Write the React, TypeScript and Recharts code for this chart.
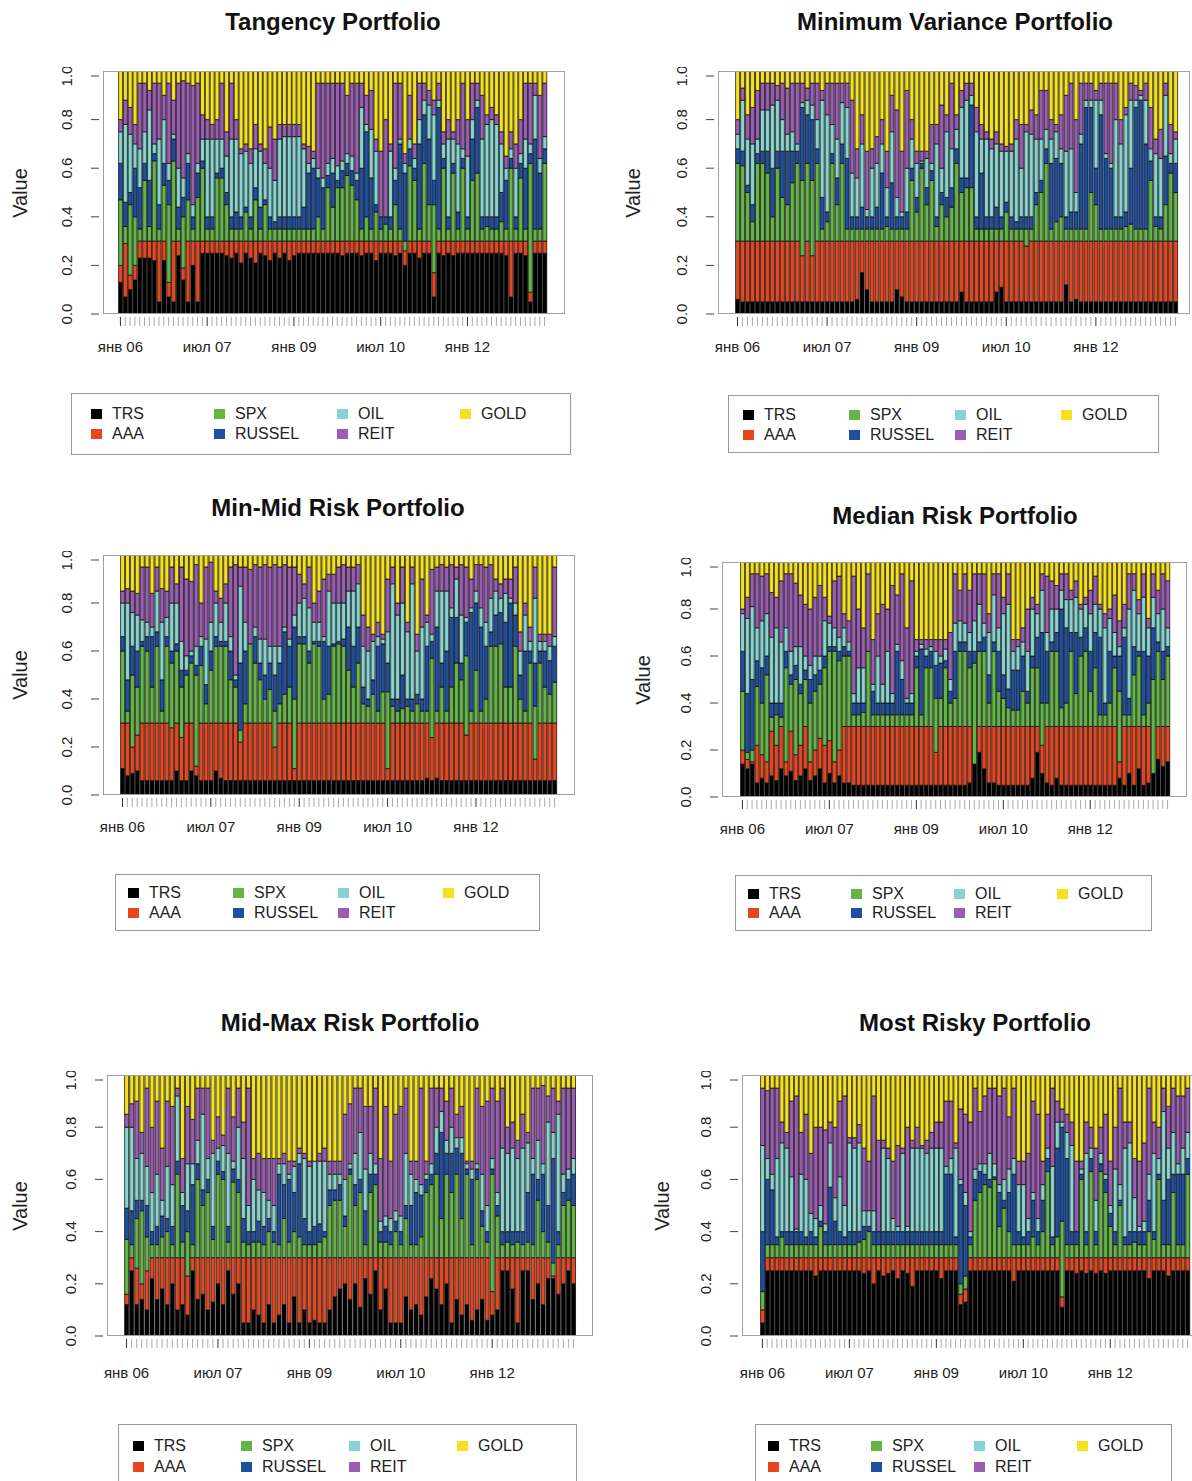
import React from 'react';
import { BarChart, Bar, XAxis, YAxis } from 'recharts';

// Asset order (bottom to top of each stacked bar)
const SERIES = ['TRS', 'AAA', 'SPX', 'RUSSEL', 'OIL', 'REIT', 'GOLD'];
const COLORS: Record<string, string> = {
  TRS: '#000000',
  AAA: '#e8461f',
  SPX: '#63b546',
  RUSSEL: '#1d4fa3',
  OIL: '#86d3d0',
  REIT: '#9b5db3',
  GOLD: '#f6e21c',
};

// monthly rebalancing dates, Jan 2006 .. May 2013
const MONTHS: string[] = [];
for (let i = 0; i < 89; i++) {
  const y = 2006 + Math.floor(i / 12);
  const m = (i % 12) + 1;
  MONTHS.push(`${y}-${String(m).padStart(2, '0')}`);
}
const TICK_MONTHS = ['2006-01', '2007-07', '2009-01', '2010-07', '2012-01'];
const TICK_LABELS = ['янв 06', 'июл 07', 'янв 09', 'июл 10', 'янв 12'];
const Y_TICKS = [0, 0.2, 0.4, 0.6, 0.8, 1];

// Values are the upper edge (in %) of each band:
// TRS top, AAA top, SPX top, RUSSEL top, OIL top, REIT top (GOLD fills to 100).

// Tangency Portfolio
const tanTRS = [13,7,10,14,23,23,23,22,5,22, 7,5,24,14,5,20,5,25,25,25, 25,25,24,23,25,21,25,23,21,25, 24,22,25,23,25,22,24,25,25,25, 25,25,25,25,25,25,24,25,25,25, 24,25,25,22,25,25,25,24,25,20, 25,25,23,25,25,7,25,24,25,24, 25,25,25,25,25,25,25,25,25,25, 24,7,25,25,24,5,25,25,25];
const tanAAA = [20,29,16,20,30,30,30,30,30,30, 13,30,30,19,30,30,30,30,30,30, 30,30,30,30,30,30,30,30,30,30, 30,30,30,30,30,30,30,30,30,30, 30,30,30,30,30,30,30,30,30,30, 30,30,30,30,30,30,30,30,30,26, 30,30,30,30,30,17,30,30,30,30, 30,30,30,30,30,30,30,30,30,30, 30,30,30,30,30,9,30,30,30];
const tanSPX = [47,36,45,40,35,55,36,63,35,53, 45,63,35,40,47,35,48,60,35,35, 56,56,45,35,35,35,42,35,47,35, 45,35,35,35,35,35,35,35,35,35, 35,40,35,52,44,52,52,57,53,47, 35,40,35,42,35,37,35,45,35,30, 61,55,35,62,45,45,35,60,35,58, 35,60,35,55,58,35,36,35,35,38, 35,60,35,56,35,62,35,35,62];
const tanRUSSEL = [62,46,50,60,52,62,55,66,45,62, 55,72,44,48,62,40,58,63,40,40, 58,60,50,40,42,40,44,40,52,44, 47,40,38,40,40,40,40,40,44,58, 60,56,52,57,58,55,59,62,59,55, 60,75,56,45,40,40,40,55,70,58, 68,60,70,82,72,55,85,64,40,62, 42,64,40,72,85,40,40,40,40,50, 55,64,40,62,60,66,72,58,68];
const tanOIL = [75,78,74,70,68,75,84,70,72,80, 62,74,60,56,66,45,62,72,72,72, 72,72,65,72,72,66,67,62,68,67, 62,60,55,72,73,73,73,73,68,62, 64,60,56,62,64,61,63,66,65,58, 85,78,76,67,40,40,67,60,72,62, 72,64,80,88,86,82,88,70,72,72, 70,68,65,80,88,72,78,80,78,70, 60,68,60,66,72,70,90,64,73];
const tanREIT = [80,88,85,78,95,95,92,95,95,90, 95,88,95,96,95,94,95,82,80,78, 80,95,75,95,80,68,70,68,78,70, 68,77,72,78,78,78,78,78,70,69, 67,95,95,95,95,95,95,90,95,95, 95,90,92,72,67,80,70,95,95,66, 90,70,95,95,92,88,95,75,80,75, 80,95,80,95,95,90,82,85,82,75, 65,75,70,80,95,95,95,90,95];

// Minimum Variance Portfolio
const mvTRS = [6,5,5,5,5,5,5,5,5,5, 5,5,5,5,5,5,5,5,5,5, 5,5,5,5,6,17,10,5,5,5, 5,5,10,7,5,5,5,5,5,5, 5,5,5,5,5,9,5,5,5,5, 5,5,9,11,5,5,5,5,5,5, 5,5,5,5,5,5,12,5,6,5, 5,5,5,5,5,5,5,5,5,5, 5,5,5,5,5,5,5,5,5];
const mvAAA = [30,30,30,30,30,30,30,30,30,30, 30,30,30,24,30,24,30,30,30,30, 30,30,30,30,30,30,30,30,30,30, 30,30,30,30,30,30,30,30,30,30, 30,30,30,30,30,30,30,30,30,30, 30,30,30,30,30,30,30,30,28,30, 30,30,30,30,30,30,30,30,30,30, 30,30,30,30,30,30,30,30,30,30, 30,30,30,30,30,30,30,30,30];
const mvSPX = [62,61,50,38,62,62,58,40,60,48, 45,54,62,55,62,55,62,35,38,62, 45,62,35,35,35,35,35,35,35,35, 36,35,35,35,35,55,42,60,45,55, 36,45,40,44,62,50,52,52,35,35, 35,35,35,35,42,35,35,35,35,35, 45,50,62,35,38,40,35,35,35,35, 35,50,45,35,35,35,35,35,36,37, 35,35,35,55,36,35,45,58,50];
const mvRUSSEL = [68,67,53,45,66,67,67,60,67,67, 67,67,67,85,82,80,68,48,42,66, 56,70,64,40,40,44,40,40,44,58, 40,54,40,40,42,60,48,62,52,59, 40,50,48,52,68,56,56,86,40,58, 40,40,44,40,46,40,38,40,40,40, 50,55,68,62,64,62,40,42,42,70, 85,85,60,82,64,60,40,40,42,60, 85,88,70,63,40,40,65,62,62];
const mvOIL = [74,88,72,70,72,84,84,86,88,80, 74,75,70,87,88,86,80,88,82,78, 72,87,85,58,56,70,43,60,62,70, 52,75,48,42,60,72,62,63,64,62, 70,60,75,68,76,85,88,90,75,72, 72,68,70,67,67,67,72,60,75,74, 72,72,76,72,75,68,67,68,50,74, 88,88,88,88,66,62,80,70,82,88, 88,90,88,68,66,64,90,66,72];
const mvREIT = [80,93,82,85,92,95,95,95,94,95, 93,95,95,95,93,95,95,92,95,95, 95,95,95,88,68,82,67,68,73,80, 67,90,84,67,92,80,67,67,67,78, 78,86,82,95,82,92,95,95,85,78, 75,72,75,70,69,70,80,78,78,84, 82,92,92,80,78,82,90,95,80,95, 95,95,92,95,95,95,95,80,85,95, 94,92,95,85,72,76,95,78,75];

// Min-Mid Risk Portfolio
const mmTRS = [11,8,9,10,6,6,6,6,6,6, 6,10,6,6,10,8,6,6,6,10, 7,6,6,6,6,6,6,6,6,6, 6,6,6,6,6,6,6,6,6,6, 6,6,6,6,6,6,6,6,6,6, 6,6,6,6,6,6,6,6,6,6, 6,6,7,6,7,6,6,6,6,6, 6,6,6,6,6,6,6,6,6,6, 6,6,6,6,6,6,6,6,6];
const mmAAA = [30,30,20,25,30,30,30,30,30,30, 28,30,24,30,30,12,30,30,30,30, 30,30,30,30,22,30,30,30,30,30, 30,20,30,30,30,11,30,30,30,30, 30,30,30,30,30,30,30,30,30,30, 30,30,30,30,11,30,30,30,30,30, 30,30,30,24,30,30,30,30,30,30, 25,30,30,30,30,30,30,30,30,30, 30,30,30,30,15,30,30,30,30];
const mmSPX = [60,35,50,45,62,60,45,62,35,62, 55,60,45,50,55,50,54,38,52,62, 62,62,48,45,27,38,63,55,48,40, 44,35,38,42,45,40,63,63,55,63, 62,40,42,62,63,62,52,45,55,38, 37,42,35,43,43,37,35,36,37,35, 38,35,35,57,35,45,35,45,55,48, 58,35,52,35,40,62,62,63,45,45, 62,40,35,55,37,55,45,42,47];
const mmRUSSEL = [66,48,62,60,64,66,66,68,48,66, 60,63,52,52,58,54,62,46,60,66, 64,64,60,48,55,60,63,66,55,50, 55,50,55,68,62,70,66,66,60,64, 64,64,62,63,64,65,70,62,70,45, 40,48,62,63,55,40,40,50,40,40, 42,40,62,64,70,55,60,74,74,55, 72,76,80,70,62,68,75,76,72,80, 75,50,60,60,55,60,60,56,62];
const mmOIL = [80,80,76,75,73,72,70,85,72,74, 80,80,64,58,60,62,66,65,72,80, 72,80,66,50,87,72,63,70,65,65, 62,62,62,70,65,75,80,82,78,72, 72,66,85,80,80,80,85,85,88,62, 60,64,66,65,68,88,75,80,68,88, 60,70,72,67,85,85,85,78,90,75, 74,78,85,78,72,82,85,82,84,82, 80,60,75,64,82,64,64,62,66];
const mmREIT = [85,86,85,84,95,95,84,95,86,85, 95,88,95,90,89,96,80,95,97,85, 82,88,95,96,95,95,94,96,95,96, 95,96,95,96,95,95,92,88,95,80, 85,90,92,92,95,96,95,95,96,75, 70,67,72,67,90,95,80,95,72,95, 67,90,75,94,95,96,95,96,95,96, 95,90,96,96,95,96,90,88,90,90, 95,68,80,70,95,67,67,67,95];

// Median Risk Portfolio
const mdTRS = [14,12,14,6,8,6,9,7,12,9, 11,7,9,12,7,9,12,6,10,6, 9,6,6,5,5,5,5,5,5,5, 5,5,5,5,5,5,5,5,5,5, 5,5,5,5,5,5,5,6,14,19, 12,6,6,5,5,5,5,5,5,5, 8,19,10,6,5,8,5,5,5,5, 5,5,5,5,5,5,5,5,8,5, 10,5,12,5,6,10,16,13,15];
const mdAAA = [20,16,15,22,18,15,28,22,30,15, 28,18,22,30,15,20,25,22,24,15, 20,30,30,30,30,30,30,30,30,30, 30,30,30,30,30,30,30,30,30,30, 19,30,30,30,30,30,30,30,14,30, 30,30,30,30,30,30,30,30,30,30, 30,30,22,30,30,30,30,30,30,30, 30,30,30,30,30,30,30,30,15,30, 30,30,30,30,30,10,30,30,30];
const mdSPX = [45,19,20,47,40,52,34,35,34,55, 48,50,44,50,40,45,48,55,62,62, 58,60,60,35,35,36,62,35,35,35, 35,35,35,35,35,35,55,35,55,55, 42,42,55,40,42,62,62,55,57,62, 62,40,62,45,42,38,37,37,45,40, 55,55,40,40,62,62,38,40,62,44, 60,62,45,55,35,35,40,55,45,35, 35,52,60,35,40,50,62,50,60];
const mdRUSSEL = [62,44,50,58,55,60,40,40,40,62, 52,56,48,54,50,52,54,60,64,64, 62,64,62,40,40,40,62,45,40,40, 40,40,62,50,40,40,60,63,60,62, 56,57,58,45,62,66,66,62,62,66, 68,52,66,62,52,46,54,54,60,45, 60,68,70,62,66,70,80,72,70,70, 68,72,62,70,68,40,62,60,60,68, 42,64,62,62,60,72,66,62,64];
const mdOIL = [78,76,81,72,75,78,68,72,66,72, 62,64,64,60,56,60,60,75,74,72, 68,72,66,44,55,55,62,48,60,48, 62,44,65,58,42,44,62,65,63,64, 62,60,63,50,74,75,74,70,75,82, 74,70,86,72,78,82,62,64,66,62, 80,78,88,70,80,80,88,84,84,85, 80,82,78,82,80,72,76,70,64,72, 80,88,78,85,72,85,78,80,72];
const mdREIT = [80,85,95,95,94,95,87,85,92,95, 95,91,86,82,80,85,90,85,77,92, 94,78,75,94,80,72,95,67,78,82, 80,90,86,95,72,92,67,67,67,67, 67,67,67,70,95,88,95,88,95,95, 95,78,95,95,85,95,67,67,72,80, 85,82,95,94,92,90,95,95,88,92, 82,85,88,94,82,78,80,86,75,82, 95,95,84,95,76,95,88,95,92];

// Mid-Max Risk Portfolio
const mxTRS = [12,25,12,14,10,22,14,18,12,20, 10,12,8,25,14,16,10,13,20,12, 25,16,20,5,5,10,8,5,12,5, 8,12,5,15,5,10,5,6,5,5, 10,15,18,20,14,20,11,22,16,25, 10,18,5,5,5,15,10,12,8,15, 22,18,12,20,5,14,8,12,6,10, 14,6,8,10,25,25,18,5,25,25, 14,20,12,22,22,16,20,25,20];
const mxAAA = [16,30,26,20,25,30,30,30,30,30, 30,30,23,30,30,30,30,30,30,30, 30,30,30,30,30,30,30,30,30,30, 30,30,30,30,30,30,30,30,30,30, 30,30,30,30,30,30,30,30,30,30, 30,30,30,30,30,30,30,30,30,30, 30,30,30,30,30,30,30,30,30,30, 30,30,17,30,30,30,30,30,30,30, 30,30,30,30,23,30,30,30,30];
const mxSPX = [37,35,45,48,38,35,35,38,40,35, 62,36,40,35,60,50,55,37,62,60, 36,59,55,36,35,36,36,35,40,36, 35,45,36,40,38,35,35,35,36,38, 50,52,52,42,62,50,55,35,55,58, 36,36,35,40,35,45,35,35,38,55, 58,62,45,62,55,62,45,62,35,60, 42,36,62,46,35,36,35,36,35,36, 35,52,40,36,28,35,50,52,50];
const mxRUSSEL = [49,48,52,52,50,40,42,46,45,42, 67,50,48,58,66,56,60,42,67,63, 42,64,60,45,40,40,44,42,45,40, 62,58,60,55,66,45,40,42,43,40, 56,56,58,46,64,58,60,48,62,62, 40,42,40,44,40,50,50,55,54,60, 62,70,78,70,70,72,70,64,60,64, 48,40,64,50,40,40,40,40,40,55, 62,60,62,50,68,40,55,60,62];
const mxOIL = [80,80,68,70,65,55,62,52,65,58, 92,55,66,66,75,85,68,70,72,73, 70,67,80,68,50,60,56,55,52,50, 66,66,62,65,70,68,65,67,67,67, 62,62,62,60,66,70,78,64,70,66, 44,46,45,48,46,70,62,60,58,62, 66,80,86,75,80,76,76,66,64,66, 62,50,68,55,72,70,72,68,72,74, 68,75,66,82,78,85,62,64,68];
const mxREIT = [85,89,90,78,95,80,90,72,90,88, 95,68,88,83,95,95,95,75,84,77, 95,84,95,82,95,68,70,68,68,68, 68,70,67,67,72,70,67,67,70,72, 67,67,67,85,89,95,95,88,88,95, 68,88,67,85,88,95,67,67,95,67, 95,95,95,90,95,85,88,67,67,95, 88,90,95,90,95,80,82,75,85,78, 95,95,96,92,95,90,95,95,95];

// Most Risky Portfolio
const mrTRS = [5,25,25,25,25,25,25,25,25,25, 25,23,25,25,25,25,25,25,25,25, 25,24,25,20,25,23,24,25,22,25, 24,19,25,25,25,25,25,22,25,25, 25,12,13,25,25,25,25,25,25,25, 25,25,21,25,25,25,25,25,25,25, 25,25,11,25,25,24,25,24,25,24, 25,24,25,25,25,25,25,25,25,25, 22,25,25,25,23,25,25,25,25];
const mrAAA = [10,30,30,30,30,30,30,30,30,30, 30,30,30,30,30,30,30,30,30,30, 30,30,30,30,30,30,30,30,30,30, 30,30,30,30,30,30,30,30,30,30, 30,16,18,30,30,30,30,30,30,30, 30,30,30,30,30,30,30,30,30,30, 30,30,15,30,30,30,30,30,30,30, 30,30,30,30,30,30,30,30,30,30, 30,30,30,30,30,30,30,30,30];
const mrSPX = [17,35,35,35,38,35,35,35,35,35, 35,35,42,35,35,35,35,35,35,35, 36,37,40,35,35,35,35,35,35,35, 35,35,35,35,35,35,35,35,35,35, 35,20,23,35,52,55,58,57,60,42, 49,40,35,35,35,35,38,35,40,63, 35,38,44,35,35,35,60,35,63,35, 63,55,42,35,50,35,35,36,35,35, 40,37,60,35,35,55,35,35,62];
const mrRUSSEL = [40,60,56,38,40,40,40,40,40,38, 40,38,44,40,57,44,40,38,40,40, 40,42,42,40,40,40,40,40,40,40, 40,40,40,40,40,40,40,40,62,62, 38,58,50,38,60,63,62,60,61,55, 52,55,62,40,38,40,52,40,52,68, 38,72,80,68,40,40,62,40,68,40, 66,60,47,40,52,38,40,40,40,40, 52,40,62,52,60,62,62,62,68];
const mrOIL = [73,68,62,68,74,72,61,41,62,60, 47,45,50,43,74,53,61,50,74,72, 74,48,48,48,40,72,68,45,42,70, 42,72,72,72,70,72,72,72,65,68, 72,60,55,40,64,66,66,70,66,58, 60,64,68,58,58,45,55,45,58,72, 65,82,82,78,73,40,64,70,72,52, 70,62,50,64,58,72,74,53,42,44, 62,70,68,86,72,78,66,72,78];
const mrREIT = [95,94,95,95,82,78,90,92,78,85, 70,80,80,79,82,80,90,92,76,76, 81,72,67,92,75,75,72,67,73,72, 80,75,80,73,75,78,82,82,90,90, 74,87,85,82,95,86,92,95,95,92, 95,84,95,67,67,70,90,85,67,85, 95,90,87,85,82,67,67,82,80,72, 80,85,67,80,95,82,82,68,67,74, 95,82,80,95,88,95,92,92,95];

function buildRows(tops: number[][]) {
  return MONTHS.map((month, i) => {
    const edges = [0, ...tops.map((t) => t[i]), 100];
    const row: Record<string, any> = { month };
    SERIES.forEach((s, k) => {
      row[s] = Math.max(0, edges[k + 1] - edges[k]) / 100;
    });
    return row;
  });
}

const FONT = '"Liberation Sans", Arial, sans-serif';

const PANELS = [
  {
    title: 'Tangency Portfolio',
    tops: [tanTRS, tanAAA, tanSPX, tanRUSSEL, tanOIL, tanREIT],
    box: [103, 565, 71, 314], bars: [118, 547], titleX: 333, titleY: 22, valueX: 20, xlabDy: 34,
    legend: { x: 71, y: 393, w: 500, h: 62, mx: 96, cw: 123, r1: 21, r2: 41 },
  },
  {
    title: 'Minimum Variance Portfolio',
    tops: [mvTRS, mvAAA, mvSPX, mvRUSSEL, mvOIL, mvREIT],
    box: [718, 1190, 71, 314], bars: [735, 1178], titleX: 955, titleY: 22, valueX: 633, xlabDy: 34,
    legend: { x: 728, y: 395, w: 431, h: 58, mx: 748, cw: 106, r1: 20, r2: 40 },
  },
  {
    title: 'Min-Mid Risk Portfolio',
    tops: [mmTRS, mmAAA, mmSPX, mmRUSSEL, mmOIL, mmREIT],
    box: [103, 575, 555, 795], bars: [120, 557], titleX: 338, titleY: 508, valueX: 20, xlabDy: 33,
    legend: { x: 115, y: 874, w: 425, h: 57, mx: 133, cw: 105, r1: 19, r2: 39 },
  },
  {
    title: 'Median Risk Portfolio',
    tops: [mdTRS, mdAAA, mdSPX, mdRUSSEL, mdOIL, mdREIT],
    box: [722, 1187, 562, 797], bars: [740, 1170], titleX: 955, titleY: 516, valueX: 643, xlabDy: 33,
    legend: { x: 735, y: 875, w: 417, h: 56, mx: 753, cw: 103, r1: 19, r2: 38 },
  },
  {
    title: 'Mid-Max Risk Portfolio',
    tops: [mxTRS, mxAAA, mxSPX, mxRUSSEL, mxOIL, mxREIT],
    box: [107, 593, 1075, 1336], bars: [124, 576], titleX: 350, titleY: 1023, valueX: 20, xlabDy: 38,
    legend: { x: 118, y: 1424, w: 459, h: 70, mx: 138, cw: 108, r1: 22, r2: 43 },
  },
  {
    title: 'Most Risky Portfolio',
    tops: [mrTRS, mrAAA, mrSPX, mrRUSSEL, mrOIL, mrREIT],
    box: [742, 1198, 1075, 1336], bars: [760, 1190], titleX: 975, titleY: 1023, valueX: 662, xlabDy: 38,
    legend: { x: 755, y: 1424, w: 417, h: 70, mx: 773, cw: 103, r1: 22, r2: 43 },
  },
];

const YW = 60;
const TOPM = 4;
const RIGHTM = 4;
const XH = 60;

function Panel({ cfg }: { cfg: any }) {
  const [boxL, boxR, boxT, boxB] = cfg.box;
  const [barL, barR] = cfg.bars;
  const rows = buildRows(cfg.tops);
  const width = boxR - boxL + YW + RIGHTM;
  const height = boxB - boxT + TOPM + XH;
  const plotBottom = TOPM + (boxB - boxT);
  const lg = cfg.legend;

  const xTick = (props: any) => {
    const { x, payload } = props;
    const idx = TICK_MONTHS.indexOf(payload.value);
    return (
      <g>
        <line x1={x} x2={x} y1={plotBottom + 3} y2={plotBottom + 12} stroke={idx >= 0 ? '#333' : '#aaa'} strokeWidth={1} />
        {idx >= 0 && (
          <text x={x} y={plotBottom + cfg.xlabDy} textAnchor="middle" dominantBaseline="middle" fontSize={15} fill="#222" fontFamily={FONT}>
            {TICK_LABELS[idx]}
          </text>
        )}
      </g>
    );
  };

  const yTick = (props: any) => {
    const { y, payload } = props;
    return (
      <g>
        <line x1={YW - 12} x2={YW - 4} y1={y} y2={y} stroke="#444" strokeWidth={1} />
        <text transform={`translate(${YW - 35},${y}) rotate(-90)`} textAnchor="middle" dominantBaseline="middle" fontSize={15} fill="#222" fontFamily={FONT}>
          {Number(payload.value).toFixed(1)}
        </text>
      </g>
    );
  };

  return (
    <>
      <div style={{ position: 'absolute', left: cfg.titleX - 300, width: 600, top: cfg.titleY - 15, lineHeight: '30px', textAlign: 'center', fontFamily: FONT, fontWeight: 'bold', fontSize: 24, color: '#111' }}>
        {cfg.title}
      </div>
      <div style={{ position: 'absolute', left: boxL - YW, top: boxT - TOPM }}>
        <BarChart width={width} height={height} data={rows} margin={{ top: TOPM, right: RIGHTM, left: 0, bottom: 0 }} barCategoryGap="12%">
          <XAxis dataKey="month" interval={0} axisLine={false} tickLine={false} height={XH} padding={{ left: barL - boxL, right: boxR - barR }} tick={xTick} />
          <YAxis width={YW} domain={[0, 1]} ticks={Y_TICKS} axisLine={false} tickLine={false} allowDataOverflow tick={yTick} />
          {SERIES.map((s) => (
            <Bar key={s} dataKey={s} stackId="w" fill={COLORS[s]} stroke="#000" strokeWidth={0.7} isAnimationActive={false} />
          ))}
        </BarChart>
      </div>
      <div style={{ position: 'absolute', left: boxL, top: boxT, width: boxR - boxL, height: boxB - boxT, border: '1px solid #a0a0a0', boxSizing: 'border-box', pointerEvents: 'none' }} />
      <div style={{ position: 'absolute', left: cfg.valueX, top: (boxT + boxB) / 2, transform: 'translate(-50%, -50%) rotate(-90deg)', fontFamily: FONT, fontSize: 20, color: '#222', whiteSpace: 'nowrap' }}>
        Value
      </div>
      <div style={{ position: 'absolute', left: lg.x, top: lg.y, width: lg.w, height: lg.h, border: '1px solid #999', boxSizing: 'border-box' }} />
      {SERIES.map((s, k) => {
        const col = Math.floor(k / 2);
        const cy = lg.y + (k % 2 === 0 ? lg.r1 : lg.r2);
        const cx = lg.mx + col * lg.cw;
        return (
          <React.Fragment key={s}>
            <div style={{ position: 'absolute', left: cx - 5, top: cy - 5, width: 11, height: 10, background: COLORS[s] }} />
            <div style={{ position: 'absolute', left: cx + 16, top: cy - 10, lineHeight: '20px', fontFamily: FONT, fontSize: 16, color: '#222', whiteSpace: 'nowrap' }}>
              {s}
            </div>
          </React.Fragment>
        );
      })}
    </>
  );
}

export default function App() {
  return (
    <div style={{ position: 'absolute', left: 0, top: 0, width: 1192, height: 1481, background: '#fff', overflow: 'hidden' }}>
      {PANELS.map((p) => (
        <Panel key={p.title} cfg={p} />
      ))}
    </div>
  );
}
